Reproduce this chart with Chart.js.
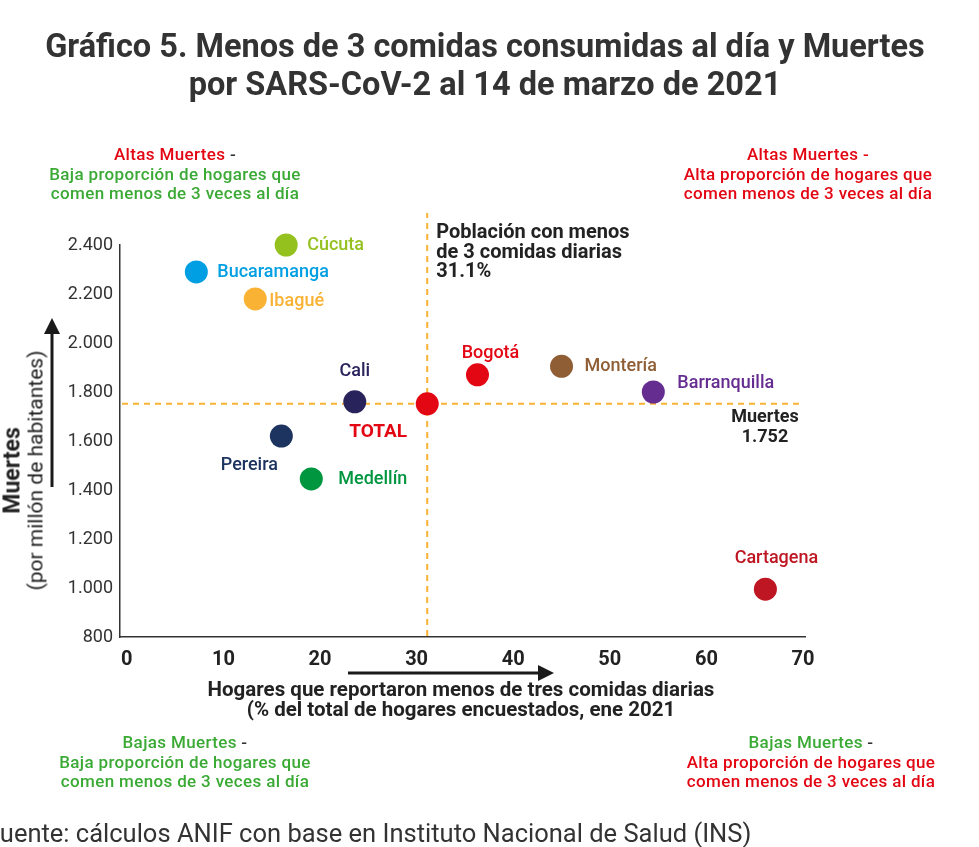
<!DOCTYPE html>
<html lang="es">
<head>
<meta charset="utf-8">
<title>Gráfico 5</title>
<script src="https://cdn.jsdelivr.net/npm/chart.js@4.4.1/dist/chart.umd.min.js"></script>
<style>
  body { margin: 0; background: #fff; font-family: Roboto, "DejaVu Sans", sans-serif; }
  #wrap { position: relative; width: 979px; height: 847px; overflow: hidden; }
  #chart { position: absolute; left: 0; top: 0; }
  .txt { position: absolute; text-align: center; }
  .title { left: 0; width: 970px; top: 27px; font-size: 32.5px; font-weight: 700; line-height: 38px; color: #333; }
  .note { width: 340px; font-size: 17px; letter-spacing: 0.35px; font-weight: 500; line-height: 19.5px; color: #3aaa35; }
  .red { color: #e30613; }
  .green { color: #3aaa35; }
  .dark { color: #333; }
  .xtitle { left: 161px; width: 600px; top: 679px; font-size: 20.5px; font-weight: 700; line-height: 20px; color: #222; }
  .ytitle { left: -126px; top: 447px; width: 300px; font-size: 21px; line-height: 23px; color: #222; transform: rotate(-90deg); }
  .ytitle b { font-size: 23px; }
  .source { left: -14px; top: 818px; font-size: 25.5px; color: #333; text-align: left; white-space: nowrap; }
</style>
</head>
<body>
<div id="wrap">
  <canvas id="chart" width="979" height="847"></canvas>

  <div class="txt title">Gráfico 5. Menos de 3 comidas consumidas al día y Muertes<br>por SARS-CoV-2 al 14 de marzo de 2021</div>

  <div class="txt note" style="left:5px; top:145px;"><span class="red">Altas Muertes</span> <span class="dark">-</span><br>Baja proporción de hogares que<br>comen menos de 3 veces al día</div>
  <div class="txt note red" style="left:638px; top:145px;">Altas Muertes -<br>Alta proporción de hogares que<br>comen menos de 3 veces al día</div>
  <div class="txt note" style="left:15px; top:733px;">Bajas Muertes <span class="dark">-</span><br>Baja proporción de hogares que<br>comen menos de 3 veces al día</div>
  <div class="txt note" style="left:641px; top:733px;">Bajas Muertes <span class="dark">-</span><br><span class="red">Alta proporción de hogares que<br>comen menos de 3 veces al día</span></div>

  <div class="txt xtitle">Hogares que reportaron menos de tres comidas diarias<br>(% del total de hogares encuestados, ene 2021</div>
  <div class="txt ytitle"><b>Muertes</b><br>(por millón de habitantes)</div>

  <div class="txt source">Fuente: cálculos ANIF con base en Instituto Nacional de Salud (INS)</div>
</div>

<script>
// datos
const cities = ['Cúcuta', 'Bucaramanga', 'Ibagué', 'Cali', 'TOTAL', 'Bogotá', 'Montería', 'Barranquilla', 'Pereira', 'Medellín', 'Cartagena'];
const hogares = [16.5, 7.2, 13.3, 23.6, 31.1, 36.3, 45.0, 54.5, 16.0, 19.1, 66.1];
const muertes = [2400, 2290, 2180, 1760, 1752, 1870, 1905, 1800, 1620, 1445, 995];
const xTicks = [0, 10, 20, 30, 40, 50, 60, 70];
const yTicks = [800, 1000, 1200, 1400, 1600, 1800, 2000, 2200, 2400];
const promedioHogares = 31.1;
const promedioMuertes = 1752;

const colors = ['#95c11f', '#009fe3', '#f9b233', '#29235c', '#e30613', '#e30613', '#8f5e35', '#662d91', '#1d3461', '#009640', '#be1622'];
// posicion de cada etiqueta respecto al punto: dx, dy, alineacion
const labelPos = [
    [21, 0, 'left'], [21, 1, 'left'], [14, 3, 'left'], [0, -30, 'center'],
    [-49, 28, 'center'], [13, -21, 'center'], [23, 0, 'left'], [24, -9, 'left'],
    [-32, 29, 'center'], [27, 1, 'left'], [11, -31, 'center']
];
const dashColor = '#f9b233';

function fmtMiles(v) {
    return String(v).replace(/\B(?=(\d{3})+(?!\d))/g, '.');
}

const refLines = {
    id: 'refLines',
    beforeDatasetsDraw(chart) {
        const ctx = chart.ctx;
        const xs = chart.scales.x, ys = chart.scales.y;
        const area = chart.chartArea;
        const px = xs.getPixelForValue(promedioHogares);
        const py = ys.getPixelForValue(promedioMuertes);
        ctx.save();
        ctx.strokeStyle = dashColor;
        ctx.lineWidth = 2;
        ctx.setLineDash([6, 5]);
        ctx.beginPath();
        ctx.moveTo(area.left + 2, py);
        ctx.lineTo(area.right - 4, py);
        ctx.moveTo(px, area.bottom - 1);
        ctx.lineTo(px, area.top - 32);
        ctx.stroke();
        ctx.setLineDash([]);

        ctx.fillStyle = '#222';
        ctx.font = 'bold 20px Roboto';
        ctx.textAlign = 'left';
        ctx.textBaseline = 'middle';
        ctx.fillText('Población con menos', px + 9, area.top - 12);
        ctx.fillText('de 3 comidas diarias', px + 9, area.top + 8);
        ctx.fillText(promedioHogares.toFixed(1) + '%', px + 9, area.top + 27);

        ctx.font = 'bold 18px Roboto';
        ctx.textAlign = 'center';
        ctx.fillText('Muertes', area.right - 40, py + 14);
        ctx.fillText(fmtMiles(promedioMuertes), area.right - 40, py + 34);

        // flechas de los ejes
        ctx.fillStyle = '#1a1a1a';
        ctx.strokeStyle = '#1a1a1a';
        ctx.lineWidth = 3;
        ctx.beginPath();
        ctx.moveTo(52, 487);
        ctx.lineTo(52, 332);
        ctx.moveTo(348, 673);
        ctx.lineTo(540, 673);
        ctx.stroke();
        ctx.beginPath();
        ctx.moveTo(52, 318); ctx.lineTo(44, 334); ctx.lineTo(60, 334); ctx.closePath();
        ctx.moveTo(554, 673); ctx.lineTo(538, 665); ctx.lineTo(538, 681); ctx.closePath();
        ctx.fill();
        ctx.restore();
    },
    afterDatasetsDraw(chart) {
        const ctx = chart.ctx;
        const meta = chart.getDatasetMeta(0);
        ctx.save();
        ctx.textBaseline = 'middle';
        meta.data.forEach((pt, i) => {
            const [dx, dy, align] = labelPos[i];
            ctx.font = cities[i] === 'TOTAL' ? 'bold 19px Roboto' : '500 18px Roboto';
            ctx.fillStyle = colors[i];
            ctx.textAlign = align;
            ctx.fillText(cities[i], pt.x + dx, pt.y + dy);
        });
        ctx.restore();
    }
};

new Chart(document.getElementById('chart').getContext('2d'), {
    type: 'scatter',
    data: {
        datasets: [{
            data: hogares.map((x, i) => ({ x: x, y: muertes[i] })),
            pointRadius: 11.5,
            pointBackgroundColor: colors,
            pointBorderWidth: 0,
            pointHoverRadius: 11.5,
            clip: false
        }]
    },
    options: {
        responsive: false,
        animation: false,
        events: [],
        layout: { padding: { top: 245, right: 174, bottom: 180, left: 0 } },
        plugins: { legend: { display: false }, tooltip: { enabled: false } },
        scales: {
            x: {
                type: 'linear',
                min: -0.7,
                max: 70.2,
                afterBuildTicks: (scale) => { scale.ticks = xTicks.map(v => ({ value: v })); },
                afterFit: (scale) => { scale.height = 30; },
                grid: { display: false, drawTicks: false },
                border: { display: true, color: '#333', width: 1.5 },
                ticks: { padding: 11, color: '#222', font: { family: 'Roboto', size: 20, weight: 'bold' } }
            },
            y: {
                type: 'linear',
                min: 800,
                max: 2400,
                afterBuildTicks: (scale) => { scale.ticks = yTicks.map(v => ({ value: v })); },
                afterFit: (scale) => { scale.width = 120; },
                grid: { display: false, drawTicks: false },
                border: { display: true, color: '#333', width: 1.5 },
                ticks: {
                    padding: 7,
                    color: '#333',
                    font: { family: 'Roboto', size: 18 },
                    callback: (v) => fmtMiles(v)
                }
            }
        }
    },
    plugins: [refLines]
});
</script>
</body>
</html>
